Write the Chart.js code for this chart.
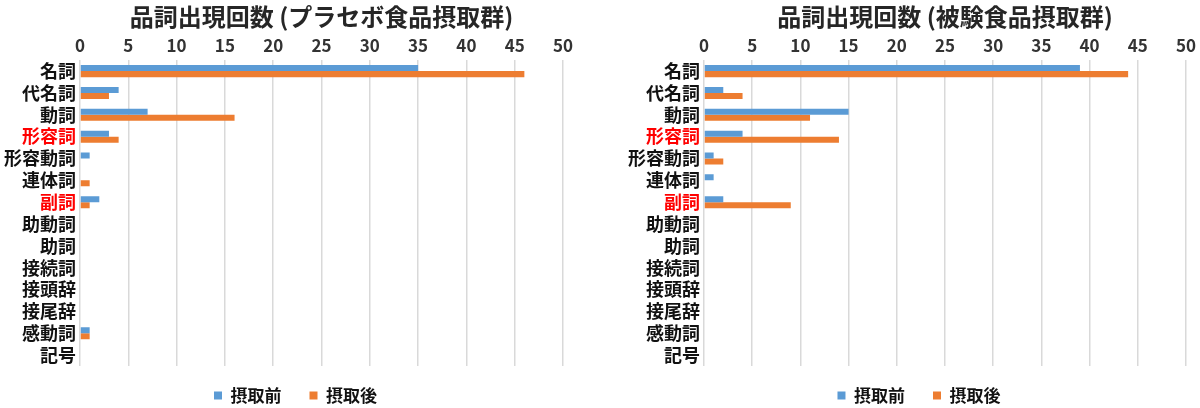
<!DOCTYPE html>
<html>
<head>
<meta charset="utf-8">
<script src="https://cdn.jsdelivr.net/npm/chart.js@4.4.0/dist/chart.umd.min.js"></script>
<style>
    body { margin: 0; background: #fff; width: 1200px; height: 408px; overflow: hidden; display: flex; }
    .box { position: relative; width: 600px; height: 408px; }
</style>
</head>
<body>
<div class="box"><canvas id="placebo"></canvas></div>
<div class="box"><canvas id="test"></canvas></div>
<script>
const categories = ['名詞', '代名詞', '動詞', '形容詞', '形容動詞', '連体詞', '副詞', '助動詞', '助詞', '接続詞', '接頭辞', '接尾辞', '感動詞', '記号'];
const redLabels = ['形容詞', '副詞'];
const seriesNames = ['摂取前', '摂取後'];

const placeboBefore = [35, 4, 7, 3, 1, 0, 2, 0, 0, 0, 0, 0, 1, 0];
const placeboAfter = [46, 3, 16, 4, 0, 1, 1, 0, 0, 0, 0, 0, 1, 0];
const testBefore = [39, 2, 15, 4, 1, 1, 2, 0, 0, 0, 0, 0, 0, 0];
const testAfter = [44, 4, 11, 14, 2, 0, 9, 0, 0, 0, 0, 0, 0, 0];

const xMin = 0, xMax = 50, xStep = 5;

const font = "'Noto Sans CJK JP', 'Noto Sans', sans-serif";
Chart.defaults.font.family = font;

// title centred over the plot area, legend nudged like the excel original
const excelLayout = {
    id: 'excelLayout',
    afterLayout(chart) {
        const a = chart.chartArea;
        const t = chart.titleBlock;
        t.left = a.left;
        t.right = a.right;
        t.width = a.right - a.left;
        const l = chart.legend;
        l.left = a.left - 52;
        l.right = a.right;
        l.width = l.right - l.left;
        l.top -= 7;
        l.bottom = chart.height;   // legend is clipped to its box
        l.height = l.bottom - l.top;
    }
};

function makeChart(id, title, before, after, padLeft, padRight) {
    const ctx = document.getElementById(id);
    return new Chart(ctx, {
        type: 'bar',
        data: {
            labels: categories,
            datasets: [{
                label: seriesNames[0],
                data: before,
                backgroundColor: '#5B9BD5',
                categoryPercentage: 0.55,
                barPercentage: 1.0
            }, {
                label: seriesNames[1],
                data: after,
                backgroundColor: '#ED7D31',
                categoryPercentage: 0.55,
                barPercentage: 1.0
            }]
        },
        options: {
            indexAxis: 'y',
            responsive: true,
            maintainAspectRatio: false,
            animation: false,
            layout: {
                padding: { left: padLeft, right: padRight, top: 0, bottom: 2 }
            },
            scales: {
                x: {
                    position: 'top',
                    min: xMin,
                    max: xMax,
                    ticks: {
                        stepSize: xStep,
                        padding: 4,
                        color: '#333',
                        font: { size: 17, weight: 'bold' }
                    },
                    grid: { color: '#d9d9d9', lineWidth: 1.5, drawTicks: false },
                    border: { display: false }
                },
                y: {
                    ticks: {
                        padding: 4,
                        autoSkip: false,
                        color: (c) => redLabels.includes(categories[c.index]) ? '#ff0000' : '#111',
                        font: { size: 18, weight: 'bold' }
                    },
                    grid: { display: false, drawTicks: false },
                    border: { display: false }
                }
            },
            plugins: {
                title: {
                    display: true,
                    text: title,
                    color: '#262626',
                    font: { size: 24, weight: 'bold' },
                    padding: { top: 2, bottom: 1 }
                },
                legend: {
                    position: 'bottom',
                    maxHeight: 40,
                    labels: {
                        boxWidth: 8,
                        boxHeight: 8,
                        padding: 28,
                        color: '#111',
                        font: { size: 17, weight: 'bold' }
                    }
                },
                tooltip: { enabled: false }
            }
        },
        plugins: [excelLayout]
    });
}

makeChart('placebo', '品詞出現回数 (プラセボ食品摂取群)', placeboBefore, placeboAfter, 0, 37);
makeChart('test', '品詞出現回数 (被験食品摂取群)', testBefore, testAfter, 24, 12);
</script>
</body>
</html>
